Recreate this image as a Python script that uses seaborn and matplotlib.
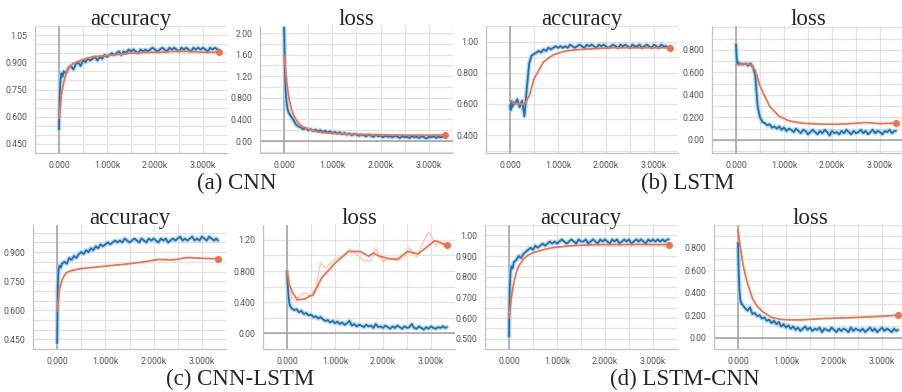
import matplotlib
matplotlib.use("Agg")
import matplotlib.pyplot as plt
import seaborn as sns
from matplotlib.ticker import FixedLocator, MultipleLocator

# ==============================================================================
# DATA
# ==============================================================================

# training steps of the raw (blue) curves
B_STEPS = [0, 15, 30, 50, 75, 100] + list(range(150, 3101, 50)) + [3150, 3200, 3250, 3300, 3330]
# steps of the smoothed validation (orange) curves
O_STEPS = [0, 50, 100, 150, 200, 300, 400, 500, 700, 900, 1100, 1300, 1500, 1800, 2100, 2400, 2700, 3000, 3330]

# (a) CNN
CNN_ACC_B = [
    0.53, 0.72, 0.80, 0.84, 0.82, 0.85,
    0.84, 0.87, 0.88, 0.86, 0.89, 0.90, 0.88, 0.91, 0.90, 0.92,
    0.91, 0.92, 0.93, 0.91, 0.93, 0.92, 0.94, 0.93, 0.94, 0.95,
    0.94, 0.95, 0.96, 0.94, 0.96, 0.95, 0.97, 0.96, 0.97, 0.96,
    0.95, 0.97, 0.96, 0.97, 0.96, 0.97, 0.98, 0.97, 0.96, 0.97,
    0.98, 0.97, 0.96, 0.98, 0.97, 0.98, 0.97, 0.96, 0.98, 0.97,
    0.98, 0.97, 0.96, 0.98, 0.97, 0.98, 0.97, 0.98, 0.97, 0.96,
    0.98, 0.97, 0.98, 0.97, 0.97,
]
CNN_ACC_O = [0.59, 0.72, 0.79, 0.84, 0.87, 0.895, 0.905, 0.915, 0.93, 0.935,
             0.94, 0.945, 0.95, 0.955, 0.955, 0.96, 0.96, 0.955, 0.955]
CNN_LOSS_B = [
    2.10, 1.35, 0.95, 0.72, 0.58, 0.52,
    0.45, 0.38, 0.30, 0.27, 0.25, 0.22, 0.24, 0.20, 0.22, 0.19,
    0.21, 0.18, 0.20, 0.17, 0.19, 0.16, 0.18, 0.15, 0.17, 0.14,
    0.16, 0.13, 0.15, 0.12, 0.14, 0.11, 0.13, 0.12, 0.10, 0.12,
    0.11, 0.09, 0.12, 0.10, 0.08, 0.11, 0.09, 0.10, 0.07, 0.10,
    0.08, 0.09, 0.07, 0.10, 0.08, 0.06, 0.09, 0.07, 0.08, 0.06,
    0.09, 0.07, 0.08, 0.06, 0.09, 0.07, 0.05, 0.08, 0.07, 0.09,
    0.06, 0.08, 0.07, 0.09, 0.08,
]
CNN_LOSS_O = [1.58, 1.12, 0.80, 0.60, 0.47, 0.33, 0.26, 0.22, 0.17, 0.15,
              0.14, 0.13, 0.125, 0.12, 0.115, 0.11, 0.11, 0.11, 0.115]

# (b) LSTM
LSTM_ACC_B = [
    0.59, 0.56, 0.62, 0.58, 0.61, 0.60,
    0.63, 0.58, 0.62, 0.52, 0.70, 0.86, 0.91, 0.92, 0.93, 0.94,
    0.93, 0.95, 0.94, 0.96, 0.95, 0.96, 0.97, 0.96, 0.97, 0.96,
    0.97, 0.96, 0.98, 0.97, 0.96, 0.97, 0.98, 0.97, 0.96, 0.98,
    0.97, 0.98, 0.97, 0.96, 0.98, 0.97, 0.98, 0.97, 0.96, 0.97,
    0.98, 0.97, 0.96, 0.98, 0.97, 0.98, 0.97, 0.96, 0.98, 0.97,
    0.97, 0.98, 0.96, 0.97, 0.98, 0.97, 0.96, 0.98, 0.97, 0.96,
    0.98, 0.97, 0.97, 0.96, 0.97,
]
LSTM_ACC_O = [0.62, 0.61, 0.60, 0.60, 0.60, 0.60, 0.65, 0.76, 0.87, 0.915,
              0.935, 0.945, 0.95, 0.955, 0.96, 0.96, 0.96, 0.96, 0.96]
LSTM_LOSS_B = [
    0.85, 0.72, 0.68, 0.69, 0.67, 0.68,
    0.67, 0.68, 0.66, 0.68, 0.65, 0.58, 0.30, 0.20, 0.16, 0.15,
    0.13, 0.14, 0.11, 0.12, 0.10, 0.12, 0.09, 0.11, 0.08, 0.10,
    0.09, 0.07, 0.10, 0.08, 0.06, 0.09, 0.08, 0.05, 0.07, 0.09,
    0.07, 0.05, 0.08, 0.06, 0.09, 0.07, 0.04, 0.08, 0.06, 0.07,
    0.05, 0.08, 0.06, 0.09, 0.07, 0.05, 0.08, 0.06, 0.07, 0.09,
    0.06, 0.08, 0.05, 0.07, 0.09, 0.06, 0.08, 0.07, 0.05, 0.08,
    0.07, 0.09, 0.06, 0.08, 0.08,
]
LSTM_LOSS_O = [0.67, 0.67, 0.675, 0.675, 0.675, 0.67, 0.62, 0.48, 0.30, 0.21,
               0.17, 0.155, 0.145, 0.14, 0.14, 0.145, 0.155, 0.145, 0.15]

# (c) CNN-LSTM
CL_ACC_B = [
    0.43, 0.74, 0.81, 0.83, 0.82, 0.84,
    0.85, 0.84, 0.87, 0.86, 0.88, 0.87, 0.89, 0.90, 0.89, 0.91,
    0.90, 0.92, 0.91, 0.93, 0.92, 0.94, 0.93, 0.94, 0.95, 0.94,
    0.95, 0.96, 0.95, 0.96, 0.95, 0.97, 0.96, 0.95, 0.96, 0.97,
    0.96, 0.95, 0.97, 0.96, 0.95, 0.97, 0.96, 0.97, 0.96, 0.95,
    0.97, 0.96, 0.97, 0.95, 0.96, 0.97, 0.96, 0.97, 0.98, 0.96,
    0.97, 0.96, 0.97, 0.98, 0.96, 0.97, 0.96, 0.98, 0.97, 0.96,
    0.98, 0.97, 0.96, 0.97, 0.96,
]
CL_ACC_O = [0.595, 0.71, 0.755, 0.78, 0.795, 0.805, 0.81, 0.815, 0.82, 0.825,
            0.83, 0.835, 0.84, 0.85, 0.862, 0.860, 0.872, 0.868, 0.866]
CL_LOSS_B = [
    0.80, 0.62, 0.48, 0.38, 0.34, 0.32,
    0.30, 0.31, 0.27, 0.29, 0.25, 0.26, 0.23, 0.24, 0.21, 0.22,
    0.19, 0.21, 0.18, 0.16, 0.17, 0.14, 0.16, 0.13, 0.15, 0.12,
    0.14, 0.11, 0.13, 0.16, 0.10, 0.12, 0.09, 0.11, 0.10, 0.08,
    0.11, 0.09, 0.10, 0.07, 0.12, 0.08, 0.09, 0.07, 0.10, 0.08,
    0.06, 0.09, 0.07, 0.10, 0.08, 0.06, 0.09, 0.07, 0.08, 0.12,
    0.07, 0.06, 0.09, 0.07, 0.05, 0.08, 0.06, 0.09, 0.07, 0.06,
    0.08, 0.07, 0.09, 0.07, 0.08,
]
CL_LOSS_O_STEPS = [0, 50, 120, 220, 370, 470, 540, 720, 1000, 1280, 1530,
                   1700, 1810, 1920, 2160, 2300, 2510, 2730, 2940, 3080, 3220, 3330]
CL_LOSS_O = [0.80, 0.62, 0.52, 0.43, 0.44, 0.48, 0.49, 0.71, 0.90, 1.05, 1.05,
             0.99, 1.03, 0.99, 0.955, 0.95, 1.05, 1.02, 1.12, 1.19, 1.16, 1.13]
CL_LOSS_RAW_STEPS = [0, 100, 200, 300, 400, 500, 600, 700, 800, 1000, 1200, 1300, 1450, 1600,
                     1750, 1850, 2000, 2150, 2300, 2450, 2550, 2700, 2800, 2950, 3000, 3100, 3200, 3330]
CL_LOSS_RAW = [0.80, 0.45, 0.42, 0.50, 0.52, 0.47, 0.60, 0.90, 0.84, 0.95, 1.00, 1.08, 1.02, 0.93,
               0.93, 1.10, 0.92, 0.96, 0.93, 0.98, 1.10, 0.98, 1.12, 1.30, 1.25, 1.12, 1.16, 1.10]

# (d) LSTM-CNN
LC_ACC_B = [
    0.51, 0.74, 0.82, 0.85, 0.84, 0.87,
    0.88, 0.90, 0.89, 0.91, 0.92, 0.93, 0.94, 0.93, 0.95, 0.94,
    0.95, 0.96, 0.95, 0.96, 0.97, 0.96, 0.97, 0.96, 0.97, 0.98,
    0.97, 0.96, 0.97, 0.98, 0.97, 0.96, 0.98, 0.97, 0.97, 0.98,
    0.96, 0.97, 0.98, 0.97, 0.96, 0.98, 0.97, 0.98, 0.97, 0.96,
    0.98, 0.97, 0.98, 0.96, 0.97, 0.98, 0.97, 0.98, 0.96, 0.97,
    0.98, 0.97, 0.98, 0.97, 0.96, 0.98, 0.97, 0.98, 0.97, 0.98,
    0.97, 0.98, 0.97, 0.98, 0.98,
]
LC_ACC_O = [0.60, 0.70, 0.77, 0.82, 0.85, 0.885, 0.905, 0.915, 0.93, 0.94,
            0.945, 0.95, 0.952, 0.955, 0.955, 0.955, 0.956, 0.955, 0.955]
LC_LOSS_B = [
    0.84, 0.58, 0.42, 0.33, 0.30, 0.29,
    0.26, 0.24, 0.27, 0.21, 0.22, 0.19, 0.20, 0.17, 0.18, 0.15,
    0.16, 0.13, 0.15, 0.12, 0.14, 0.10, 0.12, 0.09, 0.11, 0.08,
    0.10, 0.07, 0.09, 0.06, 0.08, 0.10, 0.07, 0.09, 0.06, 0.08,
    0.07, 0.09, 0.05, 0.08, 0.07, 0.06, 0.09, 0.07, 0.05, 0.08,
    0.06, 0.08, 0.07, 0.05, 0.09, 0.06, 0.08, 0.07, 0.06, 0.08,
    0.05, 0.07, 0.09, 0.06, 0.08, 0.05, 0.07, 0.09, 0.06, 0.08,
    0.07, 0.05, 0.08, 0.06, 0.07,
]
LC_LOSS_O = [0.96, 0.80, 0.66, 0.56, 0.48, 0.35, 0.28, 0.235, 0.18, 0.162,
             0.158, 0.158, 0.163, 0.17, 0.175, 0.178, 0.184, 0.19, 0.20]

X_TICKS = [0, 1000, 2000, 3000]
X_TICK_LABELS = ["0.000", "1.000k", "2.000k", "3.000k"]

# ==============================================================================
# STYLE
# ==============================================================================

sns.set_style("white")
plt.rcParams["font.family"] = ["Roboto", "DejaVu Sans"]

BLUE = "#1f72b2"
BLUE_LIGHT = "#a9cfe9"
ORANGE = "#f4704a"
ORANGE_LIGHT = "#fbcfc0"
GRID = "#e2e2e2"
SERIF = "Liberation Serif"

W, H = 903, 392
fig = plt.figure(figsize=(W / 100, H / 100), dpi=100)


def _axes(left, top, right, bottom):
    return fig.add_axes([left / W, 1 - bottom / H, (right - left) / W, (bottom - top) / H])


def _panel(box, title, blue, orange, o_steps, ylim, yticks, ylabels, yminor, is_loss,
           raw_orange=None):
    ax = _axes(*box)

    sns.lineplot(x=B_STEPS, y=blue, ax=ax, color=BLUE_LIGHT, linewidth=3.2, alpha=0.8)
    if raw_orange is not None:
        sns.lineplot(x=raw_orange[0], y=raw_orange[1], ax=ax, color=ORANGE_LIGHT, linewidth=1.2)
    sns.lineplot(x=B_STEPS, y=blue, ax=ax, color=BLUE, linewidth=1.3)
    sns.lineplot(x=o_steps, y=orange, ax=ax, color=ORANGE, linewidth=1.3)
    ax.scatter([o_steps[-1]], [orange[-1]], s=26, color=ORANGE, zorder=5, linewidths=0)

    ax.set_xlim(-500, 3500)
    ax.set_ylim(*ylim)
    ax.xaxis.set_major_locator(FixedLocator(X_TICKS))
    ax.xaxis.set_minor_locator(FixedLocator([-500, 500, 1500, 2500, 3500]))
    ax.set_xticklabels(X_TICK_LABELS)
    ax.yaxis.set_major_locator(FixedLocator(yticks))
    ax.set_yticklabels(ylabels)
    ax.yaxis.set_minor_locator(MultipleLocator(yminor))

    ax.grid(True, which="both", color=GRID, linewidth=0.9)
    ax.set_axisbelow(True)
    ax.axvline(0, color="#a0a0a0", linewidth=1.1, zorder=1)
    if is_loss:
        ax.axhline(0, color="#a0a0a0", linewidth=1.1, zorder=1)

    for side in ["top", "right"]:
        ax.spines[side].set_visible(False)
    for side in ["left", "bottom"]:
        ax.spines[side].set_color("#c4c4c4")
        ax.spines[side].set_linewidth(0.9)

    ax.tick_params(axis="both", which="both", length=2.5, width=0.8, color="#c4c4c4",
                   labelsize=6.3, labelcolor="#555555", pad=3)
    ax.tick_params(axis="y", which="minor", length=0)
    ax.set_xlabel("")
    ax.set_ylabel("")
    ax.set_title(title, fontfamily=SERIF, fontsize=16.5, pad=1)
    return ax


ACC = "accuracy"
LOSS = "loss"

_panel((35, 26, 227, 153), ACC, CNN_ACC_B, CNN_ACC_O, O_STEPS, (0.40, 1.10),
       [0.45, 0.60, 0.75, 0.90, 1.05], ["0.450", "0.600", "0.750", "0.900", "1.05"], 0.05, False)
_panel((260, 26, 453, 153), LOSS, CNN_LOSS_B, CNN_LOSS_O, O_STEPS, (-0.22, 2.13),
       [0.0, 0.4, 0.8, 1.2, 1.6, 2.0], ["0.00", "0.400", "0.800", "1.20", "1.60", "2.00"], 0.2, True)
_panel((486, 26, 678, 153), ACC, LSTM_ACC_B, LSTM_ACC_O, O_STEPS, (0.285, 1.10),
       [0.4, 0.6, 0.8, 1.0], ["0.400", "0.600", "0.800", "1.00"], 0.1, False)
_panel((712, 26, 904, 153), LOSS, LSTM_LOSS_B, LSTM_LOSS_O, O_STEPS, (-0.116, 1.013),
       [0.0, 0.2, 0.4, 0.6, 0.8], ["0.00", "0.200", "0.400", "0.600", "0.800"], 0.1, True)

_panel((33, 225, 226, 349), ACC, CL_ACC_B, CL_ACC_O, O_STEPS, (0.40, 1.04),
       [0.45, 0.60, 0.75, 0.90], ["0.450", "0.600", "0.750", "0.900"], 0.05, False)
_panel((263, 225, 455, 349), LOSS, CL_LOSS_B, CL_LOSS_O, CL_LOSS_O_STEPS, (-0.2, 1.39),
       [0.0, 0.4, 0.8, 1.2], ["0.00", "0.400", "0.800", "1.20"], 0.2, True,
       raw_orange=(CL_LOSS_RAW_STEPS, CL_LOSS_RAW))
_panel((485, 225, 677, 349), ACC, LC_ACC_B, LC_ACC_O, O_STEPS, (0.45, 1.05),
       [0.5, 0.6, 0.7, 0.8, 0.9, 1.0], ["0.500", "0.600", "0.700", "0.800", "0.900", "1.00"], 0.05, False)
_panel((714, 225, 906, 349), LOSS, LC_LOSS_B, LC_LOSS_O, O_STEPS, (-0.10, 1.0),
       [0.0, 0.2, 0.4, 0.6, 0.8], ["0.00", "0.200", "0.400", "0.600", "0.800"], 0.1, True)

# sub-figure captions
for x, y, text in [(237, 183, "(a) CNN"), (688, 183, "(b) LSTM"),
                   (240, 379, "(c) CNN-LSTM"), (685, 379, "(d) LSTM-CNN")]:
    fig.text(x / W, 1 - y / H, text, ha="center", va="center", fontfamily=SERIF, fontsize=16.5)

fig.savefig("out.png", dpi=100)
